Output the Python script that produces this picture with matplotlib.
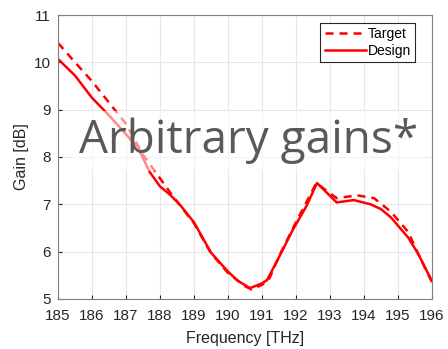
import matplotlib
matplotlib.use("Agg")
import matplotlib.pyplot as plt

# target gain curve (dashed)
target_f = [185.0, 185.5, 186.0, 186.5, 187.0, 187.5, 188.0, 188.3, 188.6, 189.0,
            189.5, 190.0, 190.5, 190.7, 191.0, 191.2, 191.5, 192.0, 192.6, 193.2,
            193.8, 194.3, 194.8, 195.3, 195.6, 196.0]
target_g = [10.41, 10.0, 9.6, 9.15, 8.7, 8.05, 7.55, 7.25, 6.97, 6.6,
            5.97, 5.55, 5.27, 5.2, 5.3, 5.4, 5.9, 6.62, 7.45, 7.13,
            7.19, 7.13, 6.84, 6.42, 5.95, 5.36]

# design gain curve (solid)
design_f = [185.0, 185.5, 186.0, 186.5, 187.0, 187.35, 187.7, 188.0, 188.3, 188.6,
            189.0, 189.5, 190.0, 190.3, 190.65, 191.0, 191.15, 191.5, 191.9, 192.3,
            192.62, 193.2, 193.7, 194.2, 194.5, 194.8, 195.3, 195.6, 196.0]
design_g = [10.07, 9.72, 9.25, 8.88, 8.48, 8.2, 7.68, 7.38, 7.2, 6.98,
            6.62, 5.98, 5.58, 5.38, 5.23, 5.33, 5.4, 5.88, 6.45, 6.95,
            7.45, 7.04, 7.09, 7.0, 6.9, 6.72, 6.3, 5.95, 5.38]

xticks = list(range(185, 197))
yticks = [5, 6, 7, 8, 9, 10, 11]

plt.rcParams['font.family'] = ['Liberation Sans', 'DejaVu Sans']

fig = plt.figure(figsize=(4.48, 3.49), dpi=100)
ax = fig.add_axes([0.1295, 0.1433, 0.8345, 0.8137])

ax.plot(target_f, target_g, color='red', lw=1.8, ls=(0, (3.2, 2.4)), label='Target')
ax.plot(design_f, design_g, color='red', lw=1.8, label='Design')

ax.set_xlim(185, 196)
ax.set_ylim(5, 11)
ax.set_xticks(xticks)
ax.set_yticks(yticks)
ax.grid(True, color='#e6e6e6', lw=0.8)
ax.set_axisbelow(True)
ax.tick_params(direction='in', length=3, colors='#262626', labelsize=11)
ax.tick_params(axis='x', pad=7)
ax.tick_params(axis='y', pad=5)
for s in ax.spines.values():
    s.set_color('#808080')
    s.set_linewidth(0.8)

ax.set_xlabel('Frequency [THz]', fontsize=11.5, color='#262626', labelpad=6)
ax.set_ylabel('Gain [dB]', fontsize=11.5, color='#262626')

leg = ax.legend(loc='upper right', bbox_to_anchor=(0.955, 0.972), fontsize=10,
                fancybox=False, framealpha=1, edgecolor='#262626',
                handlelength=3.0, borderpad=0.3, labelspacing=0.2,
                handletextpad=0.1, borderaxespad=0)
leg.get_frame().set_linewidth(0.8)

ax.text(190.62, 8.08, 'Arbitrary gains*', fontsize=33, family='Open Sans',
        color='#595959', ha='center', va='baseline', zorder=5,
        bbox=dict(facecolor='white', alpha=0.55, edgecolor='none', pad=5))

fig.savefig('out.png', dpi=100)
